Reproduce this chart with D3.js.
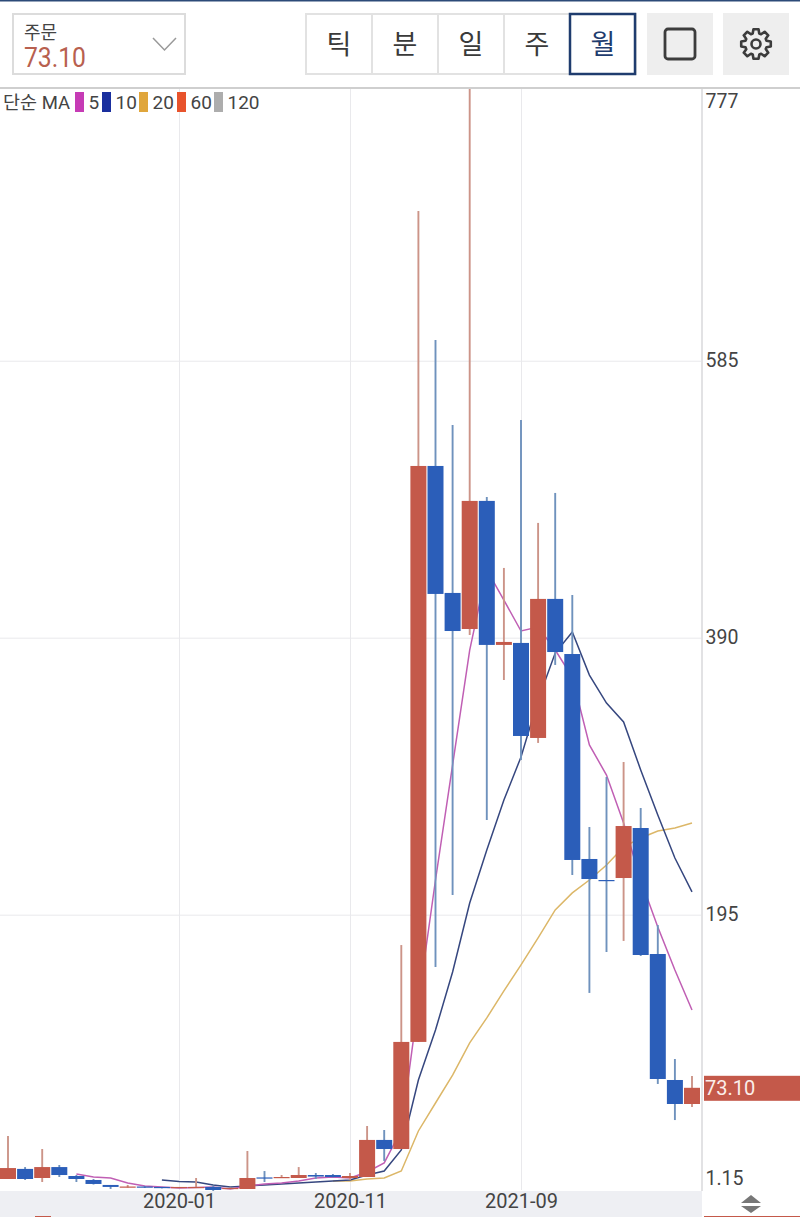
<!DOCTYPE html>
<html>
<head>
<meta charset="utf-8">
<script src="https://cdn.jsdelivr.net/npm/d3@7"></script>
<style>
  html, body { margin: 0; padding: 0; background: #fff; }
  svg { display: block; }
  text { font-family: Roboto, "Noto Sans CJK KR", sans-serif; fill: #444; }
</style>
</head>
<body>
<svg id="chart" width="800" height="1217"></svg>
<script>
// Monthly candles
var months = ['2019-03','2019-04','2019-05','2019-06','2019-07','2019-08','2019-09','2019-10','2019-11','2019-12',
  '2020-01','2020-02','2020-03','2020-04','2020-05','2020-06','2020-07','2020-08','2020-09','2020-10',
  '2020-11','2020-12','2021-01','2021-02','2021-03','2021-04','2021-05','2021-06','2021-07','2021-08',
  '2021-09','2021-10','2021-11','2021-12','2022-01','2022-02','2022-03','2022-04','2022-05','2022-06','2022-07'];
var opens = [8.9,16.0,9.6,17.3,11.0,8.2,4.7,2.9,3.6,3.3,2.6,2.6,3.3,1.85,1.85,10.0,9.6,9.6,11.7,11.7,9.6,10.3,36.4,30,105.4,
  510.9,421.5,396.1,486.3,384.9,386.3,319.4,417.3,378.5,234.2,219.4,220.8,256,167.3,78.6,61.7];
var highs = [39.2,17.3,30.0,18.75,11.7,8.9,4.7,4.7,4.0,3.3,3.3,9.6,4.0,2.9,28.6,14.5,11.7,17.3,13.1,12.4,13.1,46.2,43.4,173.6,690.4,
  599.6,539.8,777,489.1,439.1,543.3,470.8,491.9,420.1,256.7,291.9,302.5,270.1,187.7,93.4,81.4];
var lows = [8.9,8.2,6.8,10.3,6.8,5.0,1.9,2.9,2.6,2.3,2.6,2.6,0.5,1.85,1.85,6.8,9.6,9.6,8.9,10,8.2,10.3,21.6,30,105.4,
  158.2,208.9,391.9,261.7,360.2,303.9,315.9,370.8,222.9,139.9,168.7,176.5,165.9,75.8,50.4,59.6];
var closes = [16.6,8.9,17.3,11.7,8.9,5.4,3.3,3.6,2.9,2.6,3.3,3.3,1.15,2.6,9.6,9.2,10.3,11.7,10.6,10.3,11,36.4,30,105.4,510.9,
  420.8,394.7,486.3,384.9,387,320.8,417.3,379.9,233.5,220.1,219.4,257.4,166.6,79.3,61.7,73.1];

// Moving averages start where the picture starts them, null before that
var ma5 = [null,null,null,null,12.4,10.3,9.6,6.1,4.0,3.3,2.6,2.9,3.3,1.9,4.0,5.4,6.1,7.5,9.6,10.3,9.6,13.8,20.2,43.4,133.5,
  219.4,300.4,381.3,437.7,416.5,394.7,397.5,381.3,362.3,314.5,293.3,259.5,219.4,186.3,156,127.9];
var ma10 = [null,null,null,null,null,null,null,null,null,8.2,7.1,6.8,4.7,3.3,4.0,4.7,5.4,6.1,6.8,7.5,8.2,11.7,14.5,29.3,78.6,
  113.8,154.6,203.2,240.5,275.7,306,346.1,379.2,394,363.7,344,330.7,296.9,265.2,234.9,211];
var ma20 = [null,null,null,null,null,null,null,null,null,null,null,null,null,null,null,null,null,null,null,7.5,7.5,8.9,9.6,14.5,42.7,
  62.4,82.1,104.7,122.3,141.3,159.6,178.6,198.3,210.3,219.4,230,242.6,249,253.9,256,259.5];

var xTicks = ['2020-01','2020-11','2021-09'];
var yTicks = [777,585,390,195,1.15];
var yGrid = [585,390,195];
var lastPrice = 73.10;
var periods = ['틱','분','일','주','월'];
var legendItems = [
  { label: '5', color: '#c63bb5' },
  { label: '10', color: '#1a2f9e' },
  { label: '20', color: '#e0a63c' },
  { label: '60', color: '#e8532c' },
  { label: '120', color: '#adadad' }
];

var RED = '#c4594a', BLUE = '#2b5eb9';
var RED_WICK = '#cc9488', BLUE_WICK = '#6f92bd';
var PLOT_RIGHT = 702, PLOT_TOP = 88, PLOT_BOTTOM = 1190;

var svg = d3.select('#chart');

var x = d3.scalePoint().domain(months).range([8, 692]);
var y = d3.scaleLinear().domain([1.15, 777]).range([PLOT_BOTTOM, PLOT_TOP]);

// Grid first so everything sits on top of it
svg.append('g')
  .attr('class', 'grid-y')
  .call(d3.axisRight(y).tickValues(yGrid).tickSize(PLOT_RIGHT).tickFormat(''))
  .call(function (g) {
    g.select('.domain').remove();
    g.selectAll('line').attr('stroke', '#e9e9ec');
  });

svg.append('g')
  .attr('class', 'grid-x')
  .attr('transform', 'translate(0,' + PLOT_TOP + ')')
  .call(d3.axisBottom(x).tickValues(xTicks).tickSize(PLOT_BOTTOM - PLOT_TOP).tickFormat(''))
  .call(function (g) {
    g.select('.domain').remove();
    g.selectAll('line').attr('stroke', '#e9e9ec');
  });

// Moving average lines go under the candles
var maLine = d3.line()
  .defined(function (d) { return d !== null; })
  .x(function (d, i) { return x(months[i]); })
  .y(function (d) { return y(d); });

[[ma20, '#dcb768'], [ma10, '#36477f'], [ma5, '#c05fb4']].forEach(function (m) {
  svg.append('path')
    .attr('fill', 'none')
    .attr('stroke', m[1])
    .attr('stroke-width', 1.5)
    .attr('d', maLine(m[0]));
});

function isUp(i) {
  return closes[i] > opens[i];
}

svg.append('g').selectAll('line')
  .data(months)
  .enter().append('line')
  .attr('x1', function (d) { return x(d); })
  .attr('x2', function (d) { return x(d); })
  .attr('y1', function (d, i) { return y(highs[i]); })
  .attr('y2', function (d, i) { return y(lows[i]); })
  .attr('stroke', function (d, i) { return isUp(i) ? RED_WICK : BLUE_WICK; })
  .attr('stroke-width', 1.9);

svg.append('g').selectAll('rect')
  .data(months)
  .enter().append('rect')
  .attr('x', function (d) { return x(d) - 8; })
  .attr('width', 16)
  .attr('y', function (d, i) { return y(Math.max(opens[i], closes[i])); })
  .attr('height', function (d, i) {
    return Math.max(1.2, Math.abs(y(opens[i]) - y(closes[i])));
  })
  .attr('fill', function (d, i) { return isUp(i) ? RED : BLUE; });

// Bottom band and date labels
svg.append('rect')
  .attr('x', 0).attr('y', 1191).attr('width', PLOT_RIGHT).attr('height', 26)
  .attr('fill', '#eeeff3');

svg.append('g')
  .attr('transform', 'translate(0,1191)')
  .call(d3.axisBottom(x).tickValues(xTicks).tickSize(0))
  .call(function (g) {
    g.select('.domain').remove();
    g.selectAll('text')
      .attr('y', 3)
      .attr('dy', '0.71em')
      .attr('font-size', 20)
      .attr('font-family', 'Roboto, sans-serif')
      .attr('fill', '#4a4a4a');
  });

svg.append('rect').attr('x', 35).attr('y', 1216).attr('width', 16).attr('height', 1).attr('fill', RED);
svg.append('rect').attr('x', 704).attr('y', 1216).attr('width', 96).attr('height', 1).attr('fill', RED);

// Right axis
svg.append('line')
  .attr('x1', PLOT_RIGHT).attr('x2', PLOT_RIGHT)
  .attr('y1', PLOT_TOP).attr('y2', 1191)
  .attr('stroke', '#e2e2e4').attr('stroke-width', 2);

svg.append('g')
  .attr('transform', 'translate(' + PLOT_RIGHT + ',0)')
  .call(d3.axisRight(y).tickValues(yTicks).tickSize(0).tickFormat(function (d) { return String(d); }))
  .call(function (g) {
    g.select('.domain').remove();
    g.selectAll('text')
      .attr('x', 3.5)
      .attr('font-size', 19.5)
      .attr('font-family', 'Roboto, sans-serif')
      .attr('fill', '#4a4a4a')
      .attr('transform', function (d) {
        // top and bottom labels are pushed inside the plot
        if (d === 777) return 'translate(0,13)';
        if (d === 1.15) return 'translate(0,-12)';
        return null;
      });
  });

// Last price tag
svg.append('rect')
  .attr('x', 704).attr('y', y(lastPrice) - 12).attr('width', 96).attr('height', 25)
  .attr('fill', RED);
svg.append('text')
  .attr('x', 705).attr('y', y(lastPrice) + 7)
  .attr('font-size', 20)
  .style('fill', '#fbeeea')
  .text(lastPrice.toFixed(2));

// Up/down sort arrows
svg.append('path').attr('d', 'M741 1203 L751 1195 L761 1203 Z').attr('fill', '#777');
svg.append('path').attr('d', 'M741 1206 L761 1206 L751 1213 Z').attr('fill', '#777');

// Header
svg.append('rect').attr('x', 0).attr('y', 0).attr('width', 800).attr('height', 87).attr('fill', '#fff');
svg.append('rect').attr('x', 0).attr('y', 0).attr('width', 800).attr('height', 1.5).attr('fill', '#2c4a78');
svg.append('rect').attr('x', 0).attr('y', 87).attr('width', 800).attr('height', 2).attr('fill', '#cfcfcf');

svg.append('rect')
  .attr('x', 13).attr('y', 14).attr('width', 172).attr('height', 60)
  .attr('fill', '#fff').attr('stroke', '#dcdcdc').attr('stroke-width', 2);
svg.append('text').attr('x', 24).attr('y', 39).attr('font-size', 18).text('주문');
svg.append('text')
  .attr('x', 24).attr('y', 67)
  .attr('font-size', 27)
  .attr('textLength', 62)
  .attr('lengthAdjust', 'spacingAndGlyphs')
  .style('fill', '#b8604f')
  .text('73.10');
svg.append('path')
  .attr('d', 'M153 38 L164.5 50 L176 38')
  .attr('fill', 'none').attr('stroke', '#999').attr('stroke-width', 1.5);

var periodX = d3.scaleBand().domain(periods).range([306, 636]);

svg.append('rect')
  .attr('x', 306).attr('y', 14).attr('width', 330).attr('height', 60)
  .attr('fill', '#fff').attr('stroke', '#e2e2e2').attr('stroke-width', 2);

svg.append('g').selectAll('line')
  .data(periods.slice(1))
  .enter().append('line')
  .attr('x1', function (d) { return periodX(d); })
  .attr('x2', function (d) { return periodX(d); })
  .attr('y1', 14).attr('y2', 74)
  .attr('stroke', '#e2e2e2').attr('stroke-width', 2);

svg.append('rect')
  .attr('x', periodX('월')).attr('y', 14).attr('width', periodX.bandwidth() - 1).attr('height', 60)
  .attr('fill', '#fff').attr('stroke', '#1f3c6e').attr('stroke-width', 2.5);

svg.append('g').selectAll('text')
  .data(periods)
  .enter().append('text')
  .attr('x', function (d) { return periodX(d) + periodX.bandwidth() / 2; })
  .attr('y', 54)
  .attr('text-anchor', 'middle')
  .attr('font-size', 27)
  .style('fill', function (d) { return d === '월' ? '#1f3c6e' : '#3a3a3a'; })
  .text(function (d) { return d; });

svg.append('rect').attr('x', 647).attr('y', 13).attr('width', 66).attr('height', 62).attr('fill', '#eeeeee');
svg.append('rect').attr('x', 723).attr('y', 13).attr('width', 66).attr('height', 62).attr('fill', '#eeeeee');
svg.append('rect')
  .attr('x', 665).attr('y', 29).attr('width', 30).attr('height', 30).attr('rx', 3)
  .attr('fill', 'none').attr('stroke', '#3c3c3c').attr('stroke-width', 2.8);

// Gear icon, eight teeth
var gearPoints = [];
d3.range(8).forEach(function (i) {
  var a = i * Math.PI / 4;
  gearPoints.push([a - 0.17, 15], [a + 0.17, 15], [a + 0.3, 11], [a + 0.48, 11]);
});
var gear = svg.append('g').attr('transform', 'translate(756,44)');
gear.append('path')
  .attr('d', d3.lineRadial().curve(d3.curveLinearClosed)(gearPoints))
  .attr('fill', 'none').attr('stroke', '#3c3c3c').attr('stroke-width', 2.6).attr('stroke-linejoin', 'round');
gear.append('circle').attr('r', 4.5).attr('fill', 'none').attr('stroke', '#3c3c3c').attr('stroke-width', 2.6);

// Legend
svg.append('text').attr('x', 3).attr('y', 109).attr('font-size', 18.5).text('단순 MA');
var legendX = [75, 102, 139, 177, 214];
var legend = svg.append('g').selectAll('g')
  .data(legendItems)
  .enter().append('g')
  .attr('transform', function (d, i) { return 'translate(' + legendX[i] + ',0)'; });
legend.append('rect')
  .attr('y', 92).attr('width', 9).attr('height', 20)
  .attr('fill', function (d) { return d.color; });
legend.append('text')
  .attr('x', 13.5).attr('y', 109)
  .attr('font-size', 19)
  .text(function (d) { return d.label; });
</script>
</body>
</html>
